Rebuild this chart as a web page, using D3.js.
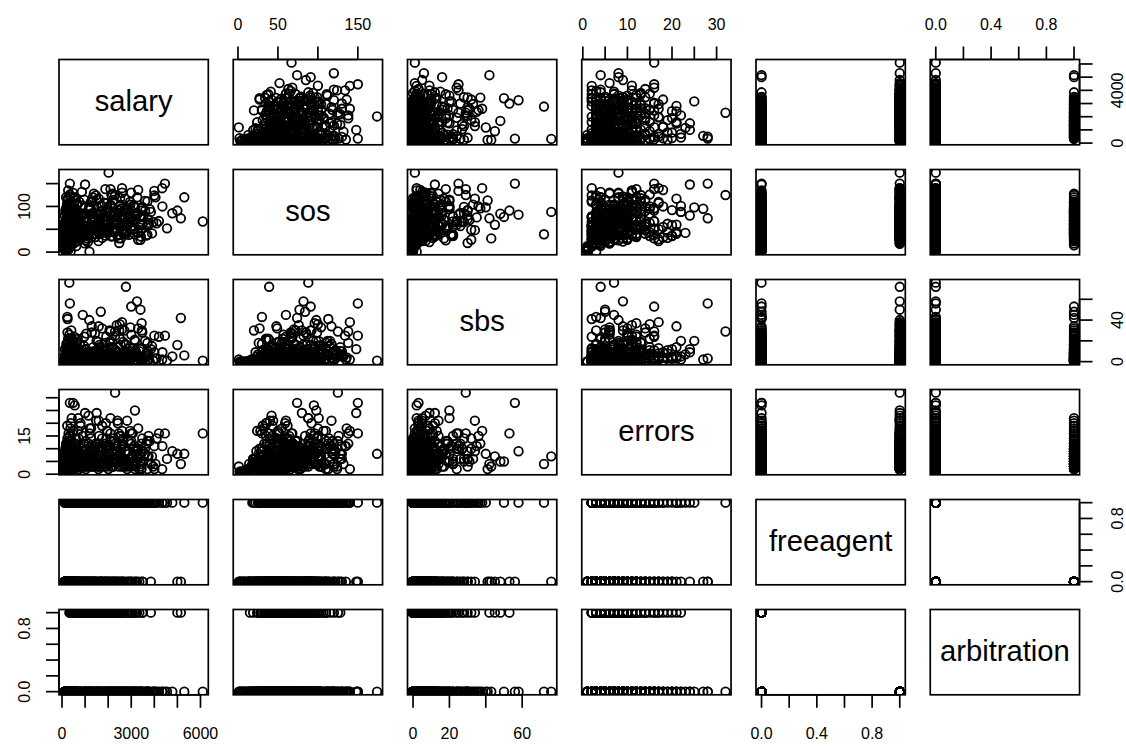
<!doctype html>
<html lang="en">
<head>
<meta charset="UTF-8" />
<title>Scatterplot matrix</title>
<style>
  body { margin: 0; background: #fff; }
  svg text { font-family: "Liberation Sans", Arial, Helvetica, sans-serif; fill: #000; }
</style>
</head>
<body>
<svg id="chart" width="1126" height="746"></svg>
<script src="https://cdn.jsdelivr.net/npm/d3@7"></script>
<script>
// variable names, in matrix order
const varNames = ["salary", "sos", "sbs", "errors", "freeagent", "arbitration"];

// one entry per player (same order in every array)
const salary = [
  6100,5300,5150,5000,4460,4340,340,2020,317,2770,2300,3250,
  3000,3400,1680,900,230,240,2500,480,550,3160,1000,1150,
  2600,2100,3000,3400,2480,3650,3700,4100,3750,3850,3460,3700,
  4000,4000,1590,2100,1190,3300,2600,1290,2400,1500,700,800,
  109,115,120,125,130,135,140,145,150,155,
  160,170,175,180,185,190,195,200,205,210,
  215,220,225,230,235,240,245,250,255,260,
  265,270,275,280,285,290,295,300,305,310,
  315,320,325,330,335,340,345,350,355,360,
  365,370,375,380,385,390,395,400,410,420,
  430,440,450,460,470,480,490,500,510,520,
  530,545,560,575,590,600,615,630,650,670,
  110,112,118,128,138,148,158,168,178,188,
  198,208,218,228,238,248,258,268,278,288,
  298,308,318,328,338,348,358,368,378,388,
  140,165,190,215,240,265,290,315,340,365,
  320,380,450,520,600,680,750,820,900,980,
  1050,1120,1200,1280,1350,1420,1500,1580,1660,1740,
  1820,1900,1980,2060,2140,2220,2300,2380,2460,2540,
  2620,2700,2780,2860,2950,3050,3150,3250,3350,3480,
  350,420,490,560,640,720,800,880,960,1040,
  1150,1250,1380,1480,1620,1780,1950,2150,2400,2650,
  600,750,900,1100,1300,1500,1700,1900,2200,2500,
  109,150,200,260,330,400,480,560,640,720,
  800,880,960,1040,1120,1200,1290,1380,1470,1560,
  1650,1740,1830,1920,2010,2100,2190,2280,2370,2460,
  2550,2640,2730,2820,2910,3000,3100,3200,3300,3420,
  3520,3600,3700,3800,3900,4050,4200,4350,4550,4780,
  120,180,240,310,380,460,540,620,700,780,
  860,940,1020,1100,1180,1260,1340,1430,1520,1610,
  1700,1790,1880,1970,2060,2150,2240,2330,2420,2510,
  2600,2690,2780,2870,2960,3060,3160,3260,3380,3450,
  400,700,1000,1300,1600,1900,2200,2500,2800,3100,
  125,145,170,200,230,260,300,350,420,500,
  135,160,185,210,250,290,330,380,440,560,
  450,650,850,1050,1250,1450,1650,1850,2050,2300,
  250,500,850,1150,1450,1750,2050,2350,2650,2950,
  1050,1350,1650,1950,2250,2550,2850,3150,3450,3750,
  1200,1500,1800,2100,2400,2700,3000,3300,3600,3950,
  1100,1400,1700,2000,2300,2600,2900,3200,3500,1250,
  1020,1320,1620,1920,2220,2520,2820,3120,3420,3720
];
const sos = [
  67,120,74,91,150,140,150,174,88,39,125,82,
  91,77,84,60,30,113,100,74,95,98,148,42,
  140,138,130,27,20,36,38,63,64,88,91,111,
  124,134,117,101,1,27,70,48,60,80,24,35,
  12,35,8,52,20,64,3,41,27,88,
  15,47,5,70,31,96,22,58,39,77,
  18,105,44,9,61,83,26,49,118,33,
  67,14,92,55,38,6,74,29,101,45,
  23,86,57,11,126,40,69,17,94,51,
  32,79,2,63,110,43,25,72,55,87,
  16,48,98,36,130,60,28,84,42,66,
  20,113,50,37,76,90,13,58,45,104,
  60,24,80,46,4,92,33,55,120,71,
  38,100,14,62,85,30,53,135,42,75,
  19,66,108,35,82,48,122,27,59,94,
  50,28,72,40,95,58,34,80,46,65,
  45,72,28,95,60,38,110,52,84,19,
  66,41,100,33,78,57,115,24,88,49,
  70,36,97,55,125,44,82,62,30,104,
  58,92,47,76,110,65,39,86,54,99,
  15,88,52,120,30,75,43,102,68,25,
  93,56,128,40,81,62,107,35,71,50,
  62,48,80,35,70,55,90,42,66,78,
  30,55,18,70,42,90,25,62,105,48,
  80,35,115,58,22,96,66,40,124,52,
  74,31,108,60,45,88,128,50,76,38,
  95,63,117,44,83,57,102,72,136,48,
  79,112,60,94,41,120,68,100,52,85,
  65,40,100,28,78,52,118,36,88,60,
  132,45,74,30,98,55,120,68,84,43,
  102,62,138,50,80,34,114,70,92,56,
  130,40,86,66,104,50,78,120,60,96,
  50,66,38,85,58,72,45,92,62,70,
  42,66,30,54,78,22,90,47,36,60,
  8,25,57,84,44,68,15,100,73,50,
  52,85,40,68,95,33,60,77,48,88,
  44,60,82,36,70,100,54,64,40,76,
  55,72,40,88,64,30,96,50,78,60,
  82,46,68,104,36,58,74,42,90,66,
  44,76,58,92,50,70,38,84,62,110,
  26,110,62,48,80,118,56,100,34,72
];
const sbs = [
  1,6,42,16,25,2,56,1,76,72,29,58,
  53,50,48,45,43,41,36,3,2,20,12,7,
  38,29,10,4,30,8,2,3,6,12,30,18,
  9,25,34,20,2,32,31,34,14,9,5,3,
  0,1,0,3,0,5,0,2,1,8,
  0,4,0,10,2,6,0,14,1,3,
  1,12,0,0,7,2,18,5,9,0,
  22,1,4,0,11,0,2,6,15,1,
  0,26,3,0,5,8,1,2,20,0,
  4,9,0,16,3,0,7,30,2,12,
  0,5,1,21,7,0,3,10,1,24,
  2,6,0,13,1,4,0,19,2,8,
  2,0,5,12,0,1,7,0,3,17,
  0,9,1,3,28,0,6,2,0,13,
  1,4,0,22,8,1,11,0,5,2,
  3,1,6,0,2,9,4,1,12,5,
  3,8,1,15,4,22,6,0,11,2,
  27,5,9,1,14,2,20,0,7,32,
  3,12,1,18,5,0,25,9,2,16,
  4,30,8,1,13,6,21,2,10,28,
  0,5,10,2,17,0,8,3,24,1,
  6,0,10,3,16,1,8,12,4,19,
  2,6,4,9,1,11,3,7,0,5,
  1,0,2,5,1,8,0,3,12,0,
  6,2,15,1,9,4,28,0,7,19,
  3,11,0,24,6,1,14,3,35,0,
  8,2,17,5,0,26,1,10,4,13,
  2,20,6,0,15,3,24,9,1,5,
  3,0,10,1,22,4,0,8,2,16,
  5,0,12,3,40,1,6,27,2,14,
  0,7,18,2,30,5,1,11,3,22,
  6,0,16,2,33,4,9,1,12,37,
  4,1,8,2,10,0,6,3,9,5,
  2,0,4,1,7,0,3,10,1,5,
  0,1,3,6,2,12,0,4,8,1,
  1,7,3,12,5,0,9,2,14,4,
  0,3,1,7,2,11,4,0,6,2,
  1,4,0,6,2,3,0,5,1,2,
  3,0,7,1,5,2,8,0,4,1,
  2,6,1,4,0,8,3,5,2,7,
  0,2,9,3,1,4,6,0,3,10
];
const errors = [
  16,8,4,8,16,2,28,8,7,4,32,9,
  16,5,5,7,3,2,15,28,27,25,24,23,
  17,16,6,3,6,12,7,14,15,4,9,13,
  2,11,21,22,3,10,5,9,21,24,17,20,
  2,4,1,6,3,9,1,5,7,4,
  2,11,1,6,3,8,5,12,2,7,
  4,10,3,1,14,5,8,2,13,6,
  4,2,9,5,16,1,3,7,11,4,
  9,6,2,1,15,5,12,3,8,6,
  18,4,1,7,10,2,5,3,13,9,
  2,6,4,11,8,3,17,5,7,2,
  4,12,3,9,6,14,1,5,8,3,
  3,5,8,2,1,10,4,6,12,3,
  2,7,4,19,6,9,3,11,5,2,
  6,10,4,15,7,3,9,2,20,5,
  5,3,7,4,9,6,2,10,5,8,
  5,9,3,7,12,4,2,8,15,6,
  10,4,18,3,7,11,5,2,9,14,
  6,20,4,8,13,3,10,5,16,7,
  12,6,3,9,17,4,11,7,2,14,
  2,22,8,4,10,6,19,3,12,5,
  8,14,6,21,3,10,17,5,9,13,
  6,3,9,5,8,4,11,7,3,6,
  3,6,2,9,4,12,5,7,3,14,
  8,4,11,2,6,16,5,9,3,12,
  7,19,4,10,2,13,8,5,11,3,
  15,6,9,21,4,12,7,3,18,8,
  5,10,2,13,7,4,16,11,6,9,
  8,4,12,2,6,16,10,3,22,7,
  4,9,13,5,8,18,3,10,6,15,
  9,4,12,17,6,3,14,8,20,5,
  11,3,9,13,6,16,2,10,7,12,
  5,9,4,7,3,11,6,8,4,10,
  3,7,2,9,4,6,11,3,8,5,
  1,4,6,3,10,5,2,7,4,12,
  4,7,10,3,6,12,5,8,4,11,
  6,3,8,12,5,4,10,6,14,3,
  4,8,12,3,6,10,5,9,2,7,
  9,5,3,11,7,4,13,6,8,3,
  7,4,10,6,12,3,8,5,9,4,
  3,10,6,14,5,8,2,11,4,13
];
const freeagent = [
  1,1,0,0,1,1,0,1,0,1,1,1,
  0,1,0,0,0,0,1,0,0,1,0,1,
  1,1,1,1,1,1,1,1,1,0,1,1,
  1,1,1,1,0,1,1,0,1,1,0,0,
  0,0,0,0,0,0,0,0,0,0,
  0,0,0,0,0,0,0,0,0,0,
  0,0,0,0,0,0,0,0,0,0,
  0,0,0,0,0,0,0,0,0,0,
  0,0,0,0,0,0,0,0,0,0,
  0,0,0,0,0,0,0,0,0,0,
  0,0,0,0,0,0,0,0,0,0,
  0,0,0,0,0,0,0,0,0,0,
  0,0,0,0,0,0,0,0,0,0,
  0,0,0,0,0,0,0,0,0,0,
  0,0,0,0,0,0,0,0,0,0,
  0,0,0,0,0,0,0,0,0,0,
  0,0,0,0,0,0,0,0,0,0,
  0,0,0,0,0,0,0,0,0,0,
  0,0,0,0,0,0,0,0,0,0,
  0,0,0,0,0,0,0,0,0,0,
  0,0,0,0,0,0,0,0,0,0,
  0,0,0,0,0,0,0,0,0,0,
  0,0,0,0,0,0,0,0,0,0,
  1,1,1,1,1,1,1,1,1,1,
  1,1,1,1,1,1,1,1,1,1,
  1,1,1,1,1,1,1,1,1,1,
  1,1,1,1,1,1,1,1,1,1,
  1,1,1,1,1,1,1,1,1,1,
  1,1,1,1,1,1,1,1,1,1,
  1,1,1,1,1,1,1,1,1,1,
  1,1,1,1,1,1,1,1,1,1,
  1,1,1,1,1,1,1,1,1,1,
  1,1,1,1,1,1,1,1,1,1,
  0,0,0,0,0,0,0,0,0,0,
  0,0,0,0,0,0,0,0,0,0,
  0,0,0,0,0,0,0,0,0,0,
  1,1,1,1,1,1,1,1,1,1,
  1,1,1,1,1,1,1,1,1,1,
  1,1,1,1,1,1,1,1,1,1,
  0,0,0,0,0,0,0,0,0,0,
  1,1,1,1,1,1,1,1,1,1
];
const arbitration = [
  0,0,1,1,0,0,0,0,0,0,0,0,
  1,0,1,1,0,0,0,0,0,0,0,0,
  0,0,0,0,0,0,0,0,0,1,0,0,
  0,0,0,0,0,0,0,1,0,0,0,0,
  0,0,0,0,0,0,0,0,0,0,
  0,0,0,0,0,0,0,0,0,0,
  0,0,0,0,0,0,0,0,0,0,
  0,0,0,0,0,0,0,0,0,0,
  0,0,0,0,0,0,0,0,0,0,
  0,0,0,0,0,0,0,0,0,0,
  0,0,0,0,0,0,0,0,0,0,
  0,0,0,0,0,0,0,0,0,0,
  0,0,0,0,0,0,0,0,0,0,
  0,0,0,0,0,0,0,0,0,0,
  0,0,0,0,0,0,0,0,0,0,
  0,0,0,0,0,0,0,0,0,0,
  1,1,1,1,1,1,1,1,1,1,
  1,1,1,1,1,1,1,1,1,1,
  1,1,1,1,1,1,1,1,1,1,
  1,1,1,1,1,1,1,1,1,1,
  1,1,1,1,1,1,1,1,1,1,
  1,1,1,1,1,1,1,1,1,1,
  1,1,1,1,1,1,1,1,1,1,
  0,0,0,0,0,0,0,0,0,0,
  0,0,0,0,0,0,0,0,0,0,
  0,0,0,0,0,0,0,0,0,0,
  0,0,0,0,0,0,0,0,0,0,
  0,0,0,0,0,0,0,0,0,0,
  0,0,0,0,0,0,0,0,0,0,
  0,0,0,0,0,0,0,0,0,0,
  0,0,0,0,0,0,0,0,0,0,
  0,0,0,0,0,0,0,0,0,0,
  0,0,0,0,0,0,0,0,0,0,
  0,0,0,0,0,0,0,0,0,0,
  0,0,0,0,0,0,0,0,0,0,
  1,1,1,1,1,1,1,1,1,1,
  0,0,0,0,0,0,0,0,0,0,
  0,0,0,0,0,0,0,0,0,0,
  0,0,0,0,0,0,0,0,0,0,
  1,1,1,1,1,1,1,1,1,1,
  0,0,0,0,0,0,0,0,0,0
];

// tick labels that R actually printed (others were dropped for overlap)
const salaryTickLabels = [0, 3000, 6000];
const sosTickLabels = [0, 50, 150];
const sosLeftTickLabels = [0, 100];
const sbsTickLabels = [0, 20, 60];
const sbsRightTickLabels = [0, 40];
const errorsTickLabels = [0, 10, 20, 30];
const errorsLeftTickLabels = [0, 15];
const salaryRightTickLabels = [0, 4000];
const binaryTickLabels = [0, 0.4, 0.8];
const binaryVertTickLabels = [0, 0.8];

const columns = [salary, sos, sbs, errors, freeagent, arbitration];
const isBinary = [false, false, false, false, true, true];

const svg = d3.select("#chart");
const left0 = 59, top0 = 59.5, colStep = 174.25, rowStep = 110;
const pw = 149.3, ph = 85.3;
const lineH = 24.4;            // one margin line
const tickLen = 13;
const tickFont = 16, labelFont = 29.2;
const n = varNames.length;

// R pads the data range by 4% on each side
const domains = columns.map(col => {
  const [lo, hi] = d3.extent(col);
  const pad = (hi - lo) * 0.04;
  return [lo - pad, hi + pad];
});

const xScale = (k, j) => d3.scaleLinear().domain(domains[k])
  .range([left0 + j * colStep, left0 + j * colStep + pw]);
const yScale = (k, i) => d3.scaleLinear().domain(domains[k])
  .range([top0 + i * rowStep + ph, top0 + i * rowStep]);

const fmt = k => isBinary[k] ? d3.format(".1f") : d3.format("d");
const ticksFor = k => d3.ticks(domains[k][0], domains[k][1], 5);

const defs = svg.append("defs");

for (let i = 0; i < n; i++) {
  for (let j = 0; j < n; j++) {
    const x0 = left0 + j * colStep, y0 = top0 + i * rowStep;
    const g = svg.append("g");

    if (i === j) {
      g.append("text")
        .attr("x", x0 + pw / 2)
        .attr("y", y0 + ph / 2 + labelFont * 0.3)
        .attr("text-anchor", "middle")
        .style("font-size", labelFont + "px")
        .text(varNames[i]);
    } else {
      const id = `clip-${i}-${j}`;
      defs.append("clipPath").attr("id", id)
        .append("rect").attr("x", x0).attr("y", y0).attr("width", pw).attr("height", ph);
      const x = xScale(j, j), y = yScale(i, i);
      g.append("g").attr("clip-path", `url(#${id})`)
        .selectAll("circle")
        .data(d3.range(salary.length))
        .join("circle")
        .attr("cx", d => x(columns[j][d]))
        .attr("cy", d => y(columns[i][d]))
        .attr("r", 4.3)
        .attr("fill", "none")
        .attr("stroke", "#000")
        .attr("stroke-width", 1.8);
    }

    g.append("rect")
      .attr("x", x0).attr("y", y0).attr("width", pw).attr("height", ph)
      .attr("fill", "none").attr("stroke", "#000").attr("stroke-width", 1.7);
  }
}

// axes, R pairs() style: alternating sides
const axisLabels = {
  bottom: { 0: salaryTickLabels, 2: sbsTickLabels, 4: binaryTickLabels },
  top: { 1: sosTickLabels, 3: errorsTickLabels, 5: binaryTickLabels },
  left: { 1: sosLeftTickLabels, 3: errorsLeftTickLabels, 5: binaryVertTickLabels },
  right: { 0: salaryRightTickLabels, 2: sbsRightTickLabels, 4: binaryVertTickLabels }
};

// R: baseline 1.2 lines out on sides 2/3, 1.8 lines out on sides 1/4
const drawHorizontal = (k, edgeY, dir, labels) => {
  const x = xScale(k, k), ticks = ticksFor(k), f = fmt(k);
  const g = svg.append("g");
  g.append("line")
    .attr("x1", x(ticks[0])).attr("x2", x(ticks[ticks.length - 1]))
    .attr("y1", edgeY).attr("y2", edgeY)
    .attr("stroke", "#000").attr("stroke-width", 1.7);
  g.selectAll("line.tick").data(ticks).join("line").attr("class", "tick")
    .attr("x1", d => x(d)).attr("x2", d => x(d))
    .attr("y1", edgeY).attr("y2", edgeY + dir * tickLen)
    .attr("stroke", "#000").attr("stroke-width", 1.7);
  g.selectAll("text").data(labels).join("text")
    .attr("x", d => x(d))
    .attr("y", dir > 0 ? edgeY + 1.8 * lineH : edgeY - 1.2 * lineH)
    .attr("text-anchor", "middle")
    .style("font-size", tickFont + "px")
    .text(d => f(d));
};

const drawVertical = (k, edgeX, dir, labels) => {
  const y = yScale(k, k), ticks = ticksFor(k), f = fmt(k);
  const g = svg.append("g");
  g.append("line")
    .attr("y1", y(ticks[0])).attr("y2", y(ticks[ticks.length - 1]))
    .attr("x1", edgeX).attr("x2", edgeX)
    .attr("stroke", "#000").attr("stroke-width", 1.7);
  g.selectAll("line.tick").data(ticks).join("line").attr("class", "tick")
    .attr("y1", d => y(d)).attr("y2", d => y(d))
    .attr("x1", edgeX).attr("x2", edgeX + dir * tickLen)
    .attr("stroke", "#000").attr("stroke-width", 1.7);
  const bx = dir > 0 ? edgeX + 1.8 * lineH : edgeX - 1.2 * lineH;
  g.selectAll("text").data(labels).join("text")
    .attr("transform", d => `translate(${bx},${y(d)}) rotate(-90)`)
    .attr("text-anchor", "middle")
    .style("font-size", tickFont + "px")
    .text(d => f(d));
};

Object.entries(axisLabels.bottom).forEach(([k, labels]) =>
  drawHorizontal(+k, top0 + (n - 1) * rowStep + ph, 1, labels));
Object.entries(axisLabels.top).forEach(([k, labels]) =>
  drawHorizontal(+k, top0, -1, labels));
Object.entries(axisLabels.left).forEach(([k, labels]) =>
  drawVertical(+k, left0, -1, labels));
Object.entries(axisLabels.right).forEach(([k, labels]) =>
  drawVertical(+k, left0 + (n - 1) * colStep + pw, 1, labels));
</script>
</body>
</html>
